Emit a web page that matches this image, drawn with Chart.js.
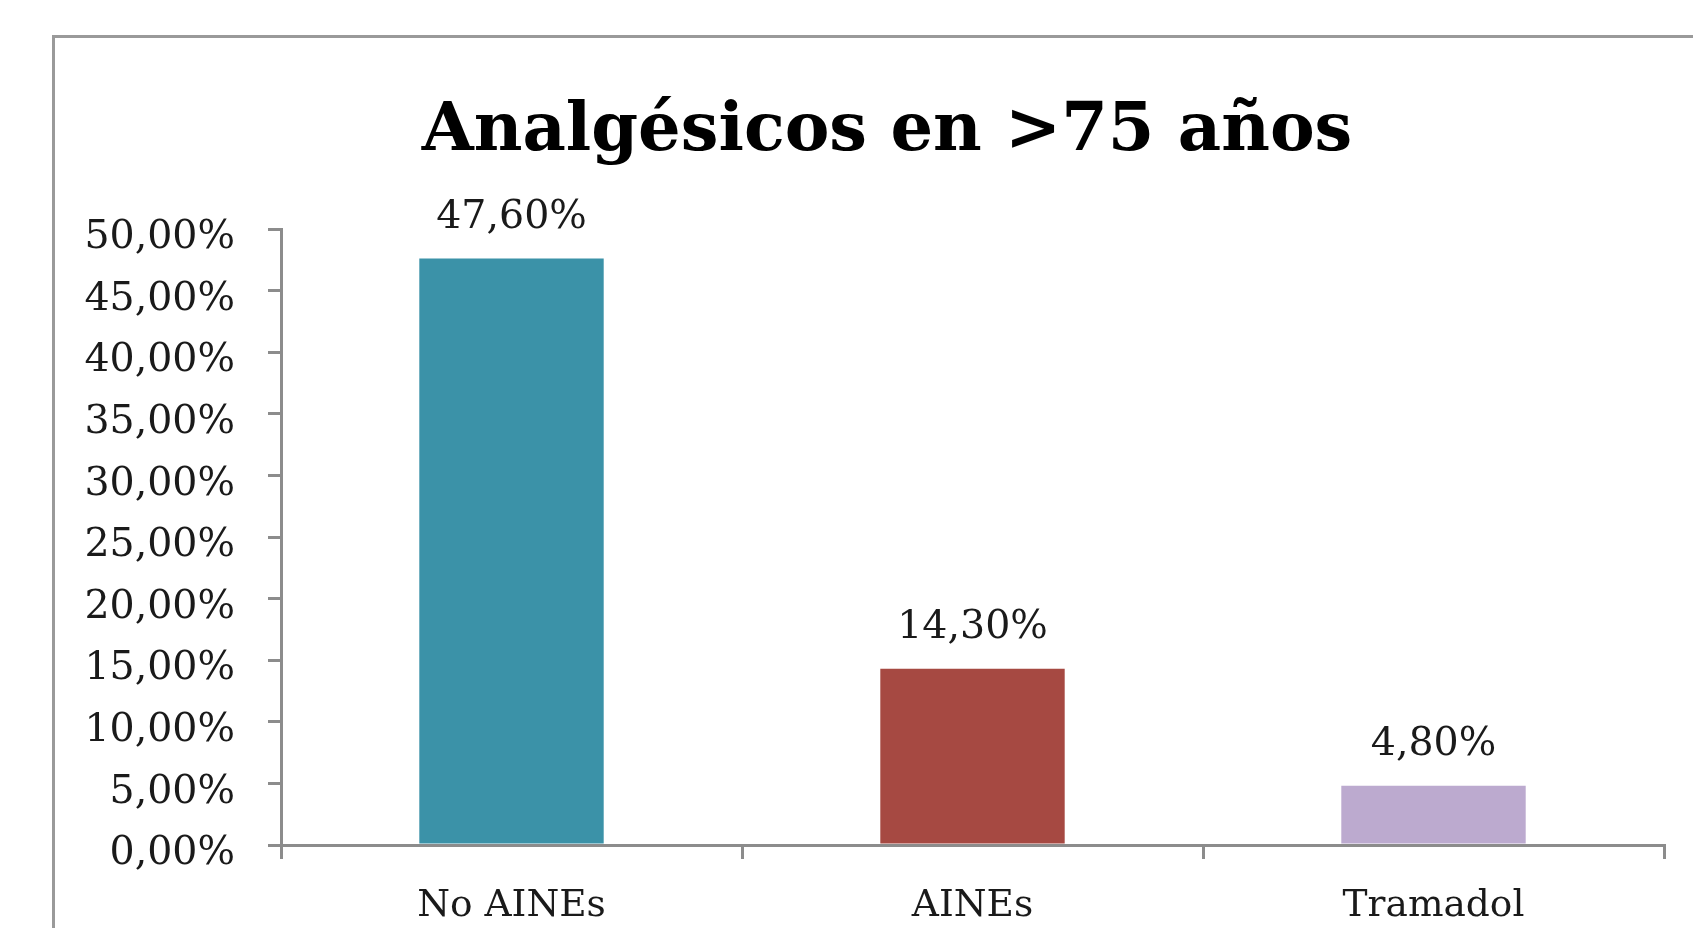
<!DOCTYPE html>
<html><head><meta charset="utf-8">
<script src="https://cdn.jsdelivr.net/npm/chart.js@4"></script>
<style>
html,body{margin:0;padding:0;background:#fff;overflow:hidden;width:1693px;height:928px;}
#frame{position:absolute;left:52px;top:35px;width:3000px;height:3000px;border-left:3px solid #9a9a9a;border-top:3px solid #9a9a9a;box-sizing:border-box;}
#c{position:absolute;left:0;top:0;}
</style></head><body>
<div id="frame"></div>
<canvas id="c" width="1774" height="928"></canvas>
<script>
const chartTitle = 'Analgésicos en >75 años';
const categories = ['No AINEs', 'AINEs', 'Tramadol'];
const values = [47.6, 14.3, 4.8];
const barColors = ['#3B92A8', '#A64942', '#BCAACF'];
const yTickLabels = ['0,00%','5,00%','10,00%','15,00%','20,00%','25,00%','30,00%','35,00%','40,00%','45,00%','50,00%'];

const fmt = v => v.toFixed(2).replace('.', ',') + '%';
const FONT = '"DejaVu Serif", serif';
const AXIS = '#8c8c8c';

// Title centred on the (wider) chart frame, as in the original
const frameTitle = {
  id: 'frameTitle',
  afterDraw(chart) {
    const ctx = chart.ctx;
    ctx.save();
    ctx.font = 'bold 67px ' + FONT;
    ctx.fillStyle = '#000';
    ctx.textAlign = 'center';
    ctx.textBaseline = 'alphabetic';
    ctx.fillText(chartTitle, 887, 150);
    ctx.restore();
  }
};

const valueLabels = {
  id: 'valueLabels',
  afterDatasetsDraw(chart) {
    const ctx = chart.ctx;
    const meta = chart.getDatasetMeta(0);
    ctx.save();
    ctx.font = '39.5px ' + FONT;
    ctx.fillStyle = '#1a1a1a';
    ctx.textAlign = 'center';
    ctx.textBaseline = 'middle';
    meta.data.forEach((bar, i) => ctx.fillText(fmt(values[i]), bar.x, bar.y - 41));
    ctx.restore();
  }
};

new Chart(document.getElementById('c'), {
  type: 'bar',
  data: {
    labels: categories,
    datasets: [{ data: values, backgroundColor: barColors, borderWidth: 0, barPercentage: 0.4, categoryPercentage: 1.0 }]
  },
  options: {
    responsive: false,
    animation: false,
    devicePixelRatio: 1,
    layout: { padding: { left: 0, right: 110, top: 229, bottom: 0 } },
    plugins: {
      legend: { display: false },
      tooltip: { enabled: false },
      title: { display: false }
    },
    scales: {
      x: {
        grid: { drawOnChartArea: false, drawTicks: true, tickLength: 14, color: AXIS, lineWidth: 3, offset: true },
        border: { display: true, color: AXIS, width: 3 },
        ticks: { color: '#1a1a1a', padding: 25, font: { family: FONT, size: 37.5, lineHeight: 1.2 }, maxRotation: 0 },
        afterFit: s => { s.height = 83; }
      },
      y: {
        min: 0, max: 50,
        ticks: { stepSize: 5, color: '#1a1a1a', padding: 33, labelOffset: 9, font: { family: FONT, size: 39.5, lineHeight: 1.2 },
                 callback: (v, i) => yTickLabels[i] },
        grid: { drawOnChartArea: false, drawTicks: true, tickLength: 13, color: AXIS, lineWidth: 3 },
        border: { display: true, color: AXIS, width: 3 },
        afterFit: s => { s.width = 281; }
      }
    }
  },
  plugins: [valueLabels, frameTitle]
});
</script>
</body></html>
